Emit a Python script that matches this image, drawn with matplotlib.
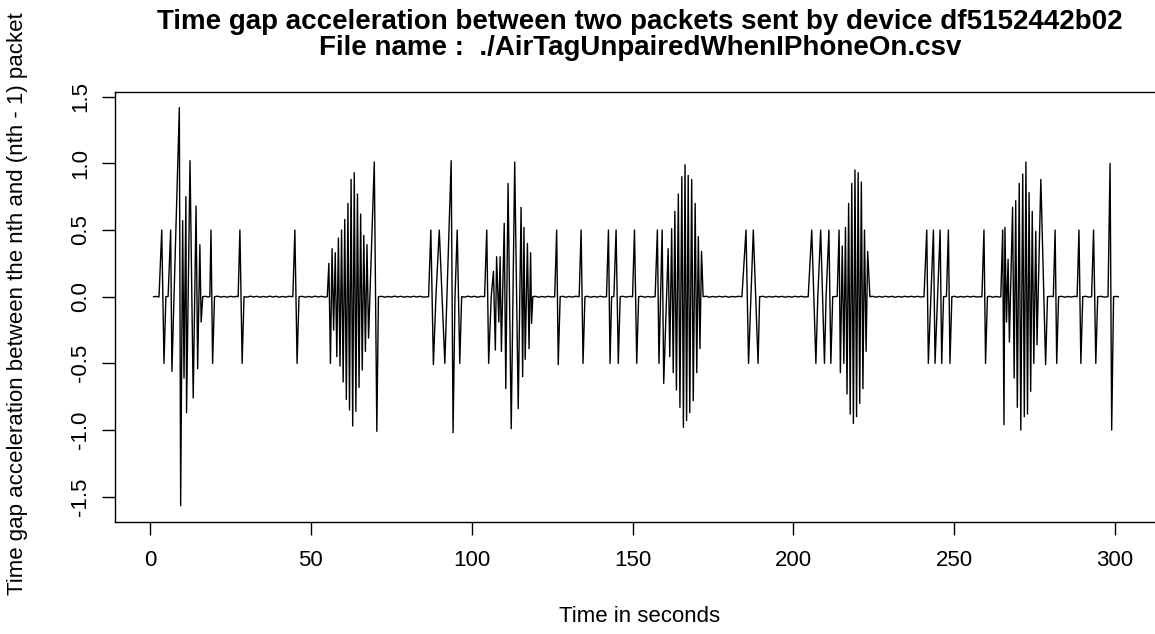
import numpy as np
import matplotlib
matplotlib.use("Agg")
import matplotlib.pyplot as plt

# time gap acceleration, segment by segment
# seg 1: start + first burst
t1 = [1.1, 2.0, 2.8, 3.65, 4.35, 4.94, 5.63, 6.42, 6.81, 9.12, 9.53, 10.15, 10.57,
      11.16, 11.36, 12.44, 13.43, 14.32, 14.81, 15.50, 15.90, 16.39, 17.2, 18.0, 18.6,
      18.96, 19.46, 20.05, 21.0, 22.0, 23.0, 24.0, 25.0, 26.0, 27.0, 27.4, 27.95, 28.64, 29.23]
v1 = [0.0, 0.002, -0.002, 0.50, -0.50, 0.0, 0.002, 0.50, -0.56, 1.418, -1.568, 0.57, -0.61,
      0.75, -0.87, 1.02, -0.76, 0.68, -0.54, 0.39, -0.19, 0.0, 0.003, -0.002, 0.0,
      0.50, -0.50, 0.0, 0.004, -0.003, 0.002, -0.004, 0.003, -0.002, 0.003, 0.0, 0.50, -0.50, 0.0]

t2 = [30.2, 31.2, 32.2, 33.2, 34.2, 35.2, 36.2, 37.2, 38.2, 39.2, 40.2, 41.2, 42.2, 43.2,
      44.4, 45.03, 45.72, 46.32, 47.3, 48.3, 49.3, 50.3, 51.3, 52.3, 53.3, 54.3, 55.11]
v2 = [-0.003, 0.004, -0.002, 0.003, -0.004, 0.002, -0.003, 0.004, -0.002, 0.003, -0.004, 0.002, -0.003, 0.003,
      0.0, 0.50, -0.50, 0.0, 0.003, -0.004, 0.002, -0.003, 0.004, -0.002, 0.003, -0.003, 0.0]

# burst 2
t3 = [55.60, 56.09, 56.59, 57.08, 57.58, 58.07, 58.56, 59.06, 59.55, 60.04, 60.54, 61.03, 61.53,
      62.02, 62.51, 63.01, 63.50, 64.00, 64.49, 64.98, 65.48, 65.97, 66.46, 66.96, 67.45, 67.94,
      69.72, 70.51, 71.01]
v3 = [0.25, -0.50, 0.36, -0.25, 0.33, -0.45, 0.44, -0.52, 0.50, -0.64, 0.58, -0.77, 0.70,
      -0.85, 0.88, -0.97, 0.93, -0.86, 0.77, -0.68, 0.62, -0.55, 0.46, -0.41, 0.39, -0.31,
      1.01, -1.01, 0.0]

t4 = [72.0, 73.0, 74.0, 75.0, 76.0, 77.0, 78.0, 79.0, 80.0, 81.0, 82.0, 83.0, 84.0, 85.0,
      86.6, 87.30, 88.09, 88.88, 89.92, 91.65, 93.62, 94.21, 94.81, 95.50, 96.29, 96.88,
      97.8, 98.8, 99.8, 100.8, 101.8, 102.8, 104.0, 104.68, 105.27, 106.07]
v4 = [0.003, -0.004, 0.002, -0.003, 0.004, -0.002, 0.003, -0.004, 0.002, -0.003, 0.003, -0.002, 0.003, -0.003,
      0.0, 0.50, -0.51, 0.0, 0.50, -0.50, 1.02, -1.02, 0.0, 0.50, -0.50, 0.0,
      -0.003, 0.004, -0.002, 0.003, -0.004, 0.002, 0.0, 0.50, -0.50, 0.0]

# burst 3
t5 = [106.76, 107.35, 107.74, 108.44, 108.83, 109.23, 110.11, 110.60, 111.30, 112.29, 113.37,
      114.46, 115.35, 115.84, 116.24, 116.63, 117.32, 117.82, 118.31, 118.61, 119.00]
v5 = [0.19, -0.40, 0.30, -0.19, 0.30, -0.41, 0.55, -0.69, 0.85, -0.99, 1.01,
      -0.84, 0.67, -0.60, 0.52, -0.47, 0.40, -0.39, 0.33, -0.20, 0.0]

t6 = [119.8, 120.8, 121.8, 122.8, 123.8, 124.8, 125.8, 126.41, 126.90, 127.50, 128.3, 129.3,
      130.3, 131.3, 132.3, 133.4, 134.01, 134.61, 135.20, 136.0, 137.0, 138.0, 139.0, 140.0,
      141.0, 141.9, 142.51, 143.00, 143.49, 144.2, 144.88, 145.57, 146.16, 147.0, 148.0, 149.0,
      150.0, 150.60, 151.30, 151.89, 152.8, 153.8, 154.8, 155.8, 156.5]
v6 = [0.003, -0.004, 0.002, -0.003, 0.003, -0.002, 0.0, 0.50, -0.51, 0.0, 0.003, -0.004,
      0.002, -0.003, 0.003, 0.0, 0.50, -0.50, 0.0, 0.003, -0.004, 0.002, -0.003, 0.003,
      -0.002, 0.0, 0.50, -0.50, 0.0, 0.002, 0.50, -0.50, 0.0, 0.003, -0.003, 0.002,
      0.0, 0.50, -0.50, 0.0, 0.003, -0.004, 0.002, -0.003, 0.0]

# burst 4
t7 = [157.02, 157.72, 158.21, 159.20, 159.69, 161.07, 161.57, 162.16, 162.65, 163.15, 163.64,
      164.23, 164.73, 165.32, 165.81, 166.31, 166.80, 167.30, 167.79, 168.38, 168.87, 169.47,
      169.96, 170.45, 170.95, 171.44, 171.94]
v7 = [0.0, 0.50, -0.50, 0.50, -0.65, 0.36, -0.45, 0.51, -0.57, 0.64, -0.70,
      0.77, -0.83, 0.90, -0.98, 0.99, -0.93, 0.91, -0.87, 0.88, -0.78, 0.70,
      -0.57, 0.45, -0.39, 0.34, 0.0]

t8 = [172.9, 173.9, 174.9, 175.9, 176.9, 177.9, 178.9, 179.9, 180.9, 181.9, 182.9, 184.0,
      185.27, 186.06, 187.54, 189.02, 189.51, 190.5, 191.5, 192.5, 193.5, 194.5, 195.5, 196.5,
      197.5, 198.5, 199.5, 200.5, 201.5, 202.5, 203.4, 204.6, 205.71, 206.99, 207.59, 208.48,
      209.66, 210.16, 211.04, 211.64, 212.23, 213.61, 214.20, 214.60]
v8 = [0.003, -0.004, 0.002, -0.003, 0.003, -0.002, 0.003, -0.004, 0.002, -0.002, 0.003, 0.0,
      0.50, -0.50, 0.50, -0.50, 0.0, 0.003, -0.004, 0.002, -0.003, 0.003, -0.002, 0.003,
      -0.004, 0.002, -0.003, 0.003, -0.002, 0.003, -0.002, 0.0, 0.50, -0.50, 0.0, 0.50,
      -0.50, 0.0, 0.50, -0.50, 0.0, 0.002, 0.50, -0.57]

# burst 5
t9 = [215.19, 215.69, 216.18, 216.67, 217.17, 217.66, 218.15, 218.65, 219.14, 219.64, 220.13,
      220.62, 221.12, 221.61, 222.10, 222.60, 223.09, 223.78]
v9 = [0.38, -0.50, 0.52, -0.73, 0.70, -0.88, 0.85, -0.95, 0.95, -0.90, 0.93,
      -0.80, 0.86, -0.69, 0.50, -0.41, 0.34, 0.0]

t10 = [224.6, 225.6, 226.6, 227.6, 228.6, 229.6, 230.6, 231.6, 232.6, 233.6, 234.6, 235.6,
       236.6, 237.6, 238.6, 239.6, 240.6, 241.46, 241.95, 243.53, 244.03, 245.61, 246.10, 246.69,
       247.58, 248.18, 248.67, 249.26, 250.0, 251.0, 252.0, 253.0, 254.0, 255.0, 256.0, 257.0,
       258.6, 259.24, 259.73, 260.32, 261.0, 262.0, 263.0, 263.8]
v10 = [0.003, -0.004, 0.002, -0.003, 0.003, -0.002, 0.003, -0.004, 0.002, -0.003, 0.003, -0.002,
       0.003, -0.002, 0.003, -0.002, 0.0, 0.50, -0.50, 0.50, -0.50, 0.50, -0.50, 0.0,
       0.002, 0.50, -0.50, 0.0, 0.003, -0.004, 0.002, -0.003, 0.003, -0.002, 0.003, -0.002,
       0.0, 0.50, -0.50, 0.0, 0.003, -0.004, 0.002, -0.003]

# burst 6
t11 = [264.47, 265.06, 265.46, 265.75, 266.25, 266.74, 267.14, 268.13, 268.62, 269.11, 269.61,
       270.20, 270.69, 271.29, 271.78, 272.28, 272.77, 273.26, 273.76, 274.25, 274.74, 275.34,
       275.73, 276.92, 278.40, 278.99]
v11 = [0.0, 0.50, -0.96, 0.52, -0.19, 0.28, -0.34, 0.67, -0.61, 0.72, -0.83,
       0.85, -1.00, 0.92, -0.90, 1.01, -0.88, 0.78, -0.71, 0.64, -0.50, 0.49,
       -0.36, 0.88, -0.51, 0.0]

t12 = [280.0, 280.8, 281.36, 281.85, 282.44, 283.4, 284.4, 285.4, 286.4, 287.4, 288.2, 288.77,
       289.36, 289.95, 290.9, 291.9, 292.7, 293.31, 294.00, 294.59, 295.6, 296.6, 297.8, 298.44,
       298.94, 299.53, 300.3, 301.0]
v12 = [0.003, 0.0, 0.50, -0.50, 0.0, 0.003, -0.004, 0.002, -0.003, 0.003, 0.0, 0.50,
       -0.50, 0.0, 0.003, -0.003, 0.0, 0.50, -0.50, 0.0, 0.003, -0.003, 0.0, 1.00,
       -1.00, 0.0, 0.002, 0.0]

x_ticks = [0, 50, 100, 150, 200, 250, 300]
y_ticks = [-1.5, -1.0, -0.5, 0.0, 0.5, 1.0, 1.5]
y_labels = ["-1.5", "-1.0", "-0.5", "0.0", "0.5", "1.0", "1.5"]

time_s = np.concatenate([t1, t2, t3, t4, t5, t6, t7, t8, t9, t10, t11, t12])
accel = np.concatenate([v1, v2, v3, v4, v5, v6, v7, v8, v9, v10, v11, v12])

plt.rcParams["font.family"] = ["Liberation Sans", "DejaVu Sans"]

W, H = 1155, 634
fig = plt.figure(figsize=(W / 100, H / 100), dpi=100)
# plot box runs past the right edge of the picture (reference is cropped)
ax = fig.add_axes([115 / W, (H - 521.7) / H, (1160 - 115) / W, 430 / H])

ax.plot(time_s, accel, color="black", lw=1.0)
ax.set_xlim(-10.88, 313.96)
ax.set_ylim(-1.6875, 1.5375)

ax.set_xticks(x_ticks)
ax.set_xticklabels([str(x) for x in x_ticks])
ax.set_yticks(y_ticks)
ax.set_yticklabels(y_labels, rotation=90, va="center")

for sp in ax.spines.values():
    sp.set_color("black")
    sp.set_linewidth(1.0)
ax.tick_params(axis="both", direction="out", length=9.4, width=1.0, colors="black", labelsize=16)
ax.tick_params(axis="x", pad=11)
ax.tick_params(axis="y", pad=8)

fig.text(18 / W, 1 - 304 / H, "Time gap acceleration between the nth and (nth - 1) packet",
         rotation=90, ha="center", va="center", fontsize=16)
fig.text(640 / W, 1 - 617 / H, "Time in seconds", ha="center", va="center", fontsize=16)
fig.text(640 / W, 1 - 22 / H, "Time gap acceleration between two packets sent by device df5152442b02",
         ha="center", va="center", fontsize=20, fontweight="bold")
fig.text(640 / W, 1 - 48 / H, "File name :  ./AirTagUnpairedWhenIPhoneOn.csv",
         ha="center", va="center", fontsize=20, fontweight="bold")

fig.savefig("out.png", dpi=100)
